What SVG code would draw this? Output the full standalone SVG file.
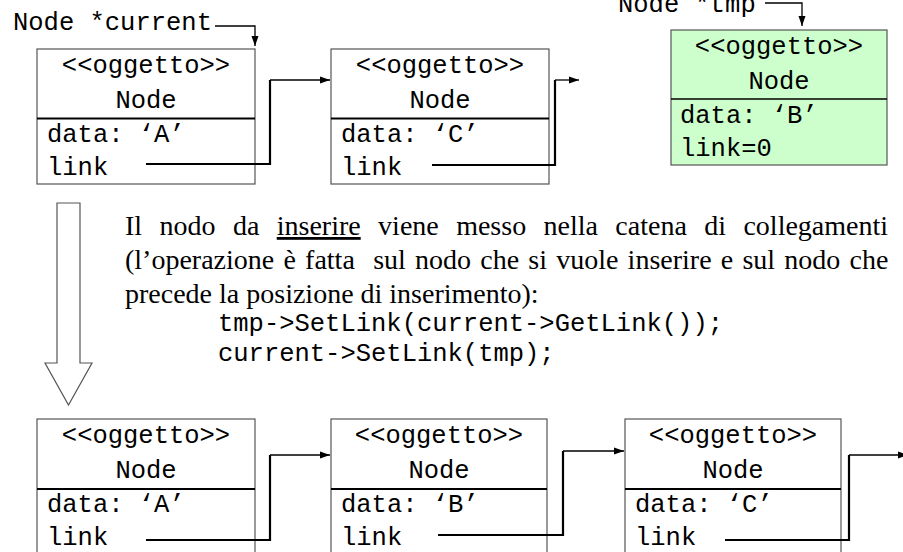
<svg xmlns="http://www.w3.org/2000/svg" width="903" height="552" viewBox="0 0 903 552">
<style>
.mono{font-family:"Liberation Mono","Courier New",monospace;font-size:25.5px;fill:#000}
.code{font-family:"Liberation Mono","Courier New",monospace;font-size:25.5px;fill:#000}
.serif{font-family:"Liberation Serif","Times New Roman",serif;font-size:28px;fill:#000;white-space:pre}
.box{fill:#fff;stroke:#555;stroke-width:1.2}
.green{fill:#ccffcc}
.div{stroke:#000;stroke-width:2}
.mid{text-anchor:middle}
.thick{fill:none;stroke:#000;stroke-width:2.2}
.thin{fill:none;stroke:#000;stroke-width:1.3}
</style>
<defs>
<marker id="ah" markerUnits="userSpaceOnUse" markerWidth="10" markerHeight="10" viewBox="0 0 10 10" refX="10" refY="5" orient="auto">
<path d="M0,1.5 L10,5 L0,8.5 Z" fill="#000"/>
</marker>
</defs>

<g id="label-current"><text class="mono" x="13" y="30">Node *current</text></g>
<g id="label-tmp"><text class="mono" x="618" y="12">Node *tmp</text></g>

<g id="nodeA-top">
<rect class="box" x="37" y="49" width="218" height="135"/>
<line class="div" x1="37" y1="118.5" x2="255" y2="118.5"/>
<text class="mono mid" x="146" y="73">&lt;&lt;oggetto&gt;&gt;</text>
<text class="mono mid" x="146" y="108">Node</text>
<text class="mono" x="47" y="142">data: ‘A’</text>
<text class="mono" x="47" y="175">link</text>
</g>

<g id="nodeC-top">
<rect class="box" x="331" y="49" width="218" height="135"/>
<line class="div" x1="331" y1="118.5" x2="549" y2="118.5"/>
<text class="mono mid" x="440" y="73">&lt;&lt;oggetto&gt;&gt;</text>
<text class="mono mid" x="440" y="108">Node</text>
<text class="mono" x="341" y="142">data: ‘C’</text>
<text class="mono" x="341" y="175">link</text>
</g>

<g id="nodeB-tmp">
<rect class="box green" x="671" y="30" width="216" height="135"/>
<line class="div" x1="671" y1="99" x2="887" y2="99" style="stroke-width:1.4"/>
<text class="mono mid" x="779" y="54">&lt;&lt;oggetto&gt;&gt;</text>
<text class="mono mid" x="779" y="89">Node</text>
<text class="mono" x="680" y="123">data: ‘B’</text>
<text class="mono" x="680" y="156">link=0</text>
</g>

<g id="big-arrow">
<polygon points="57,203 80,203 80,363 92,363 68.5,405 45,363 57,363" fill="#fff" stroke="#555" stroke-width="1.2"/>
</g>

<g id="description">
<text class="serif" y="235"><tspan x="125" word-spacing="10.4">Il nodo da </tspan><tspan text-decoration="underline" word-spacing="10.4">inserire</tspan><tspan word-spacing="10.4"> viene messo nella catena di collegamenti</tspan></text>
<text class="serif" x="125" y="269" word-spacing="2.2">(l’operazione è fatta  sul nodo che si vuole inserire e sul nodo che</text>
<text class="serif" x="125" y="303">precede la posizione di inserimento):</text>
<text class="code" x="218" y="331">tmp-&gt;SetLink(current-&gt;GetLink());</text>
<text class="code" x="218" y="361">current-&gt;SetLink(tmp);</text>
</g>

<g id="nodeA-bottom">
<rect class="box" x="37" y="419" width="218" height="140"/>
<line class="div" x1="37" y1="489" x2="255" y2="489"/>
<text class="mono mid" x="146" y="443">&lt;&lt;oggetto&gt;&gt;</text>
<text class="mono mid" x="146" y="478">Node</text>
<text class="mono" x="47" y="512">data: ‘A’</text>
<text class="mono" x="47" y="545">link</text>
</g>

<g id="nodeB-bottom">
<rect class="box" x="331" y="419" width="216" height="140"/>
<line class="div" x1="331" y1="489" x2="547" y2="489"/>
<text class="mono mid" x="439" y="443">&lt;&lt;oggetto&gt;&gt;</text>
<text class="mono mid" x="439" y="478">Node</text>
<text class="mono" x="341" y="512">data: ‘B’</text>
<text class="mono" x="341" y="545">link</text>
</g>

<g id="nodeC-bottom">
<rect class="box" x="625" y="419" width="216" height="140"/>
<line class="div" x1="625" y1="489" x2="841" y2="489"/>
<text class="mono mid" x="733" y="443">&lt;&lt;oggetto&gt;&gt;</text>
<text class="mono mid" x="733" y="478">Node</text>
<text class="mono" x="635" y="512">data: ‘C’</text>
<text class="mono" x="635" y="545">link</text>
</g>

<g id="connectors">
<path class="thin" d="M215,26 H255 V46" marker-end="url(#ah)"/>
<path class="thin" d="M765,3 H802 V26" marker-end="url(#ah)"/>
<path class="thick" d="M146,164 H270 V80"/>
<path class="thin" d="M270,80 H330" marker-end="url(#ah)"/>
<path class="thick" d="M432,165 H555 V80"/>
<path class="thin" d="M555,80 H579" marker-end="url(#ah)"/>
<path class="thick" d="M146,540 H270 V455"/>
<path class="thin" d="M270,455 H330" marker-end="url(#ah)"/>
<path class="thick" d="M438,535 H563 V451"/>
<path class="thin" d="M563,451 H624" marker-end="url(#ah)"/>
<path class="thick" d="M725,540 H849 V455"/>
<path class="thin" d="M849,455 H908" marker-end="url(#ah)"/>
</g>
</svg>
